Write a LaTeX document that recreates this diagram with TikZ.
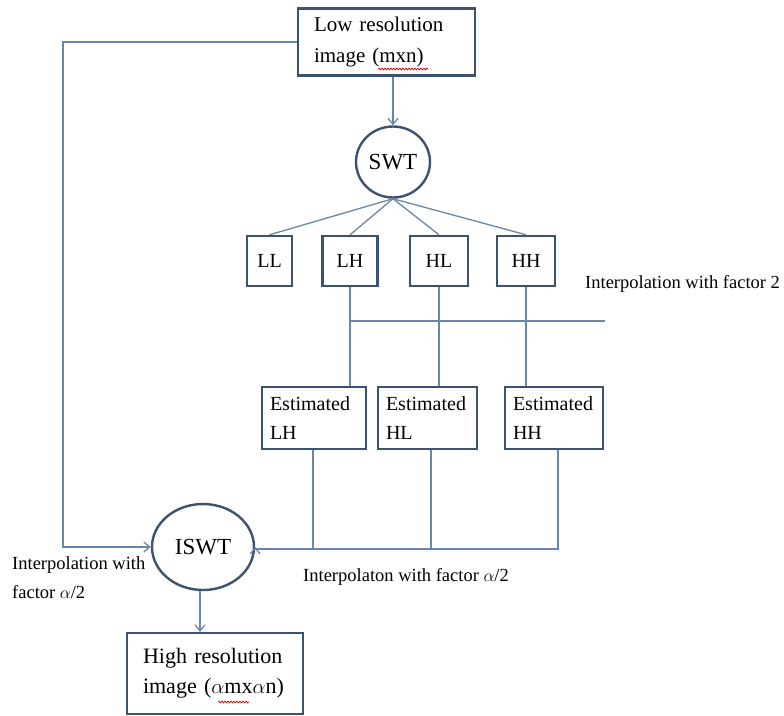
\documentclass[tikz,border=0pt]{standalone}
\usepackage{fontspec}
\setmainfont{Liberation Serif}
\usepackage{xcolor}
\usetikzlibrary{shapes,arrows,positioning,calc,decorations.pathmorphing,arrows.meta}

\definecolor{boxline}{HTML}{3B536E}
\definecolor{conline}{HTML}{6A86A6}

\tikzset{
    blockbox/.style={draw=boxline, line width=2.4pt, inner ysep=1pt, font=\fontsize{20}{29}\selectfont},
    textbox/.style={blockbox, align=left, inner xsep=#1},
    roundbox/.style={draw=boxline, line width=2.4pt, ellipse, inner sep=0pt, font=\fontsize{23}{26}\selectfont},
    conn/.style={draw=conline, line width=1.3pt},
    arr/.style={conn, -{Straight Barb[length=6pt,width=10pt]}},
    lbl/.style={font=\fontsize{18.5}{29}\selectfont, align=left, inner sep=0pt},
    squig/.style={draw=red!80!black, line width=0.7pt, decorate, decoration={snake, amplitude=0.9pt, segment length=3pt}}
}

\begin{document}
\begin{tikzpicture}[x=1pt,y=-1pt]
    \useasboundingbox (0,0) rectangle (784,715);

    % Blocks
    \node[textbox=16pt, text width=145pt, minimum height=67pt, font=\fontsize{21}{31}\selectfont] (lowres) at (386.5,42) {Low resolution\\image (mxn)};
    \node[roundbox, minimum width=74pt, minimum height=71pt] (swt) at (393,162) {SWT};

    \node[blockbox, minimum width=45pt, minimum height=50pt] (ll) at (269.5,261) {LL};
    \node[blockbox, minimum width=55pt, minimum height=50pt] (lh) at (350,261) {LH};
    \node[blockbox, minimum width=58pt, minimum height=50pt] (hl) at (439,261) {HL};
    \node[blockbox, minimum width=58pt, minimum height=50pt] (hh) at (526,261) {HH};

    \node[textbox=8pt, text width=88pt, minimum height=62pt] (estlh) at (314,418) {Estimated\\LH};
    \node[textbox=8pt, text width=83pt, minimum height=62pt] (esthl) at (427.5,418) {Estimated\\HL};
    \node[textbox=8pt, text width=82pt, minimum height=62pt] (esthh) at (554,418) {Estimated\\HH};

    \node[roundbox, minimum width=102pt, minimum height=86pt] (iswt) at (203,547) {ISWT};
    \node[textbox=16pt, text width=144pt, minimum height=81pt, font=\fontsize{22}{30}\selectfont] (hires) at (215,673.5) {High resolution\\image ($\alpha$m{}x$\alpha$n)};

    % Labels
    \node[lbl, anchor=west] (interp2) at (585,284) {Interpolation with factor 2};
    \node[lbl, anchor=north west] (interpl) at (12,556) {Interpolation with\\factor $\alpha$/2};
    \node[lbl] (interpr) at (406,577) {Interpolaton with factor $\alpha$/2};

    % Spell-check marks
    \draw[squig] (378,69) -- (428,69);
    \draw[squig] (218,702) -- (249,702);

    % SWT branch
    \draw[arr] (swt.north |- lowres.south) -- (swt.north);
    \foreach \b in {ll,lh,hl,hh}
        \draw[conn] (swt.south) -- (\b.north);

    % Interpolation with factor 2
    \coordinate (bar) at (605,321);
    \foreach \b/\e in {lh/estlh,hl/esthl,hh/esthh}
        \draw[conn] (\b.south) -- (\b.south |- \e.north);
    \draw[conn] (lh.south |- bar) -- (bar);

    % Back to ISWT
    \path (estlh.south) ++(-1,0) coordinate (lhout);
    \path (esthl.south) ++(3.5,0) coordinate (hlout);
    \path (esthh.south) ++(4,0) coordinate (hhout);
    \coordinate (rbar) at (hhout |- 0,549);
    \draw[arr] (hhout) -- (rbar) -- (rbar -| iswt.east) -- (iswt.east);
    \draw[conn] (lhout) -- (lhout |- rbar);
    \draw[conn] (hlout) -- (hlout |- rbar);
    \coordinate (lcorner) at (63,42);
    \draw[arr] (lowres.west) -- (lcorner) -- (lcorner |- iswt.west) -- (iswt.west);

    \draw[arr] (iswt.south) ++(-3,0) coordinate (iswtout) -- (iswtout |- hires.north);
\end{tikzpicture}
\end{document}
